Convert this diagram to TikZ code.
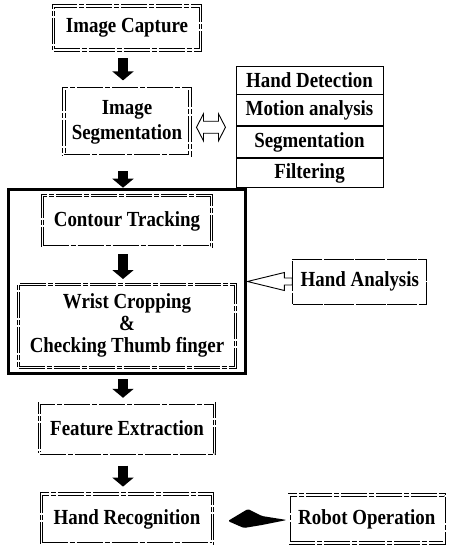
\documentclass[tikz,border=0pt]{standalone}
\usepackage{fontspec}
\setmainfont{Liberation Serif}[FakeStretch=0.88]
\usetikzlibrary{arrows.meta}
\usetikzlibrary{positioning}
\usetikzlibrary{fit}
\usetikzlibrary{calc}
\tikzset{>=latex}
\newcommand\stagefont{\bfseries\fontsize{21.5}{22}\selectfont}
\tikzset{
    stage/.style = {draw, double, double distance=1.8pt, line width=0.8pt,
        dash pattern=on 26pt off 2pt on 5pt off 2pt,
        font=\stagefont, align=center, inner sep=2pt},
    note/.style = {draw, line width=0.9pt, dash pattern=on 30pt off 1.5pt,
        font=\stagefont, inner sep=2pt},
    method/.style = {draw, line width=0.9pt, minimum width=147pt, font=\stagefont, inner sep=1pt},
    frame/.style = {draw, line width=3pt, inner xsep=10pt, inner ysep=6pt},
    down/.style = {line width=10pt, -{Triangle[width=21pt,length=9pt]}},
    outline/.style = {draw, line width=0.9pt, fill=white},
}

\begin{document}
\begin{tikzpicture}[x=1pt,y=-1pt]
    \useasboundingbox (0,0) rectangle (450,545);
    % main column
    \node[stage, minimum width=147pt, minimum height=44pt] (cap) at (127,28) {Image Capture};
    \node[stage, minimum width=126pt, minimum height=67pt, below=38pt of cap] (seg) {Image\\[3pt]Segmentation};
    \node[stage, minimum width=169pt, minimum height=51pt, below=39pt of seg] (contour) {Contour Tracking};
    \node[stage, minimum width=217pt, minimum height=83pt, below=37pt of contour] (wrist) {Wrist Cropping\\\&\\Checking Thumb finger};
    \node[frame, fit=(contour)(wrist)] (hand) {};
    \node[stage, minimum width=175pt, minimum height=50pt, below=35pt of wrist] (feat) {Feature Extraction};
    \node[stage, minimum width=171pt, minimum height=50pt, below=40pt of feat] (recog) {Hand Recognition};
    \node[stage, minimum width=155pt, minimum height=48pt, right=76pt of recog] (robot) {Robot Operation};
    \node[note, minimum width=134pt, minimum height=45pt, right=45pt of hand] (ana) {Hand Analysis};
    % segmentation methods
    \node[method, minimum height=28pt] (det) at (309.5,80) {Hand Detection};
    \node[method, minimum height=31pt, below=0pt of det] (mot) {Motion analysis};
    \node[method, minimum height=31pt, below=0pt of mot] (segm) {Segmentation};
    \node[method, minimum height=29pt, below=0pt of segm] (filt) {Filtering};
    % arrows
    \draw[down, shorten <=8pt, shorten >=8pt] ([xshift=-4pt]cap.south) -- ([xshift=-4pt]cap.south |- seg.north);
    \draw[down, shorten <=15pt] ([xshift=-4pt]seg.south) -- ([xshift=-4pt]seg.south |- hand.north);
    \draw[down, shorten <=7pt, shorten >=5pt] ([xshift=-4pt]contour.south) -- ([xshift=-4pt]contour.south |- wrist.north);
    \draw[down, shorten <=4pt, shorten >=5pt] ([xshift=-4pt]hand.south) -- ([xshift=-4pt]hand.south |- feat.north);
    \draw[down, shorten <=12pt, shorten >=7pt] ([xshift=-4pt]feat.south) -- ([xshift=-4pt]feat.south |- recog.north);
    \coordinate (segswap) at ($(seg.east)!0.5!(seg.east -| mot.west)+(-2,5)$);
    \draw[outline, shift={(segswap)}] (-14.5,0) -- (-7.5,-13.5) -- (-7.5,-6) -- (7.5,-6) -- (7.5,-13.5)
        -- (14.5,0) -- (7.5,13.5) -- (7.5,6) -- (-7.5,6) -- (-7.5,13.5) -- cycle;
    \draw[outline, shift={(hand.east)}] (0,0) -- (37,-9) -- (37,-3.5) -- ($(ana.west)-(hand.east)+(0,-3.5)$)
        -- ($(ana.west)-(hand.east)+(0,3.5)$) -- (37,3.5) -- (37,9) -- cycle;
    \coordinate (tip) at ($(recog.east)+(15,2)$);
    \fill[rounded corners=1.5pt] (tip) -- ($(tip)+(20,-12)$) -- ($(tip)+(34,-5)$)
        -- ($(robot.west)+(-2,1)$) -- ($(tip)+(34,4)$) -- ($(tip)+(16,7)$) -- cycle;
\end{tikzpicture}
\end{document}
